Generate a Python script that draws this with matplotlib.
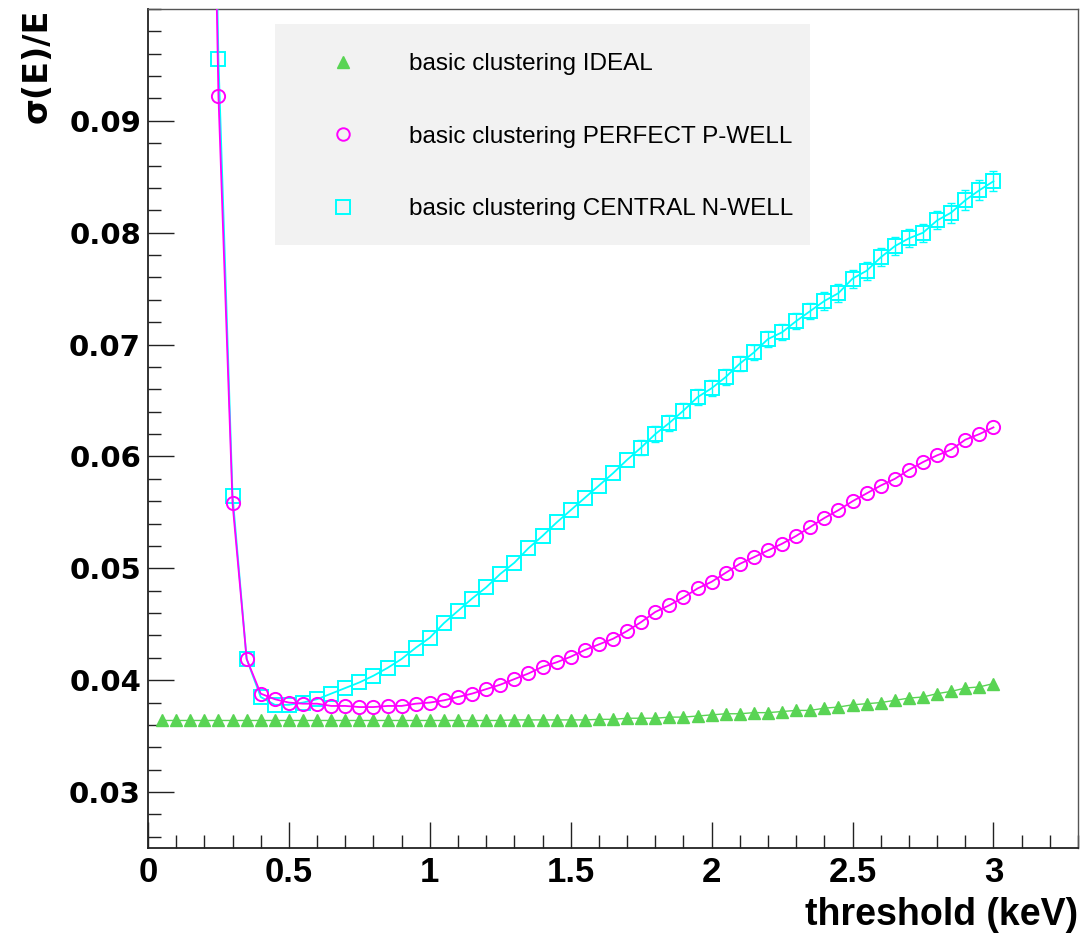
import numpy as np
import matplotlib
matplotlib.use("Agg")
import matplotlib.pyplot as plt
from matplotlib.lines import Line2D
from matplotlib.patches import Rectangle
from matplotlib.ticker import MultipleLocator

# ---------------- data ----------------
thr_ideal = [0.05, 0.10, 0.15, 0.20, 0.25, 0.30, 0.35, 0.40, 0.45, 0.50,
             0.55, 0.60, 0.65, 0.70, 0.75, 0.80, 0.85, 0.90, 0.95, 1.00,
             1.05, 1.10, 1.15, 1.20, 1.25, 1.30, 1.35, 1.40, 1.45, 1.50,
             1.55, 1.60, 1.65, 1.70, 1.75, 1.80, 1.85, 1.90, 1.95, 2.00,
             2.05, 2.10, 2.15, 2.20, 2.25, 2.30, 2.35, 2.40, 2.45, 2.50,
             2.55, 2.60, 2.65, 2.70, 2.75, 2.80, 2.85, 2.90, 2.95, 3.00]
res_ideal = [0.0364, 0.0364, 0.0364, 0.0364, 0.0364, 0.0364, 0.0364, 0.0364, 0.0364, 0.0364,
             0.0364, 0.0364, 0.0364, 0.0364, 0.0364, 0.0364, 0.0364, 0.0364, 0.0364, 0.0364,
             0.0364, 0.0364, 0.0364, 0.0364, 0.0364, 0.03645, 0.03645, 0.03645, 0.03645, 0.03645,
             0.03645, 0.0365, 0.0365, 0.0366, 0.0366, 0.0366, 0.0367, 0.0367, 0.0368, 0.0369,
             0.0370, 0.0370, 0.0371, 0.0371, 0.0372, 0.0373, 0.0373, 0.0375, 0.0376, 0.0378,
             0.0379, 0.0380, 0.0382, 0.0384, 0.0385, 0.0388, 0.0390, 0.0393, 0.0394, 0.0397]

thr_well = [0.20, 0.25, 0.30, 0.35, 0.40, 0.45, 0.50,
            0.55, 0.60, 0.65, 0.70, 0.75, 0.80, 0.85, 0.90, 0.95, 1.00,
            1.05, 1.10, 1.15, 1.20, 1.25, 1.30, 1.35, 1.40, 1.45, 1.50,
            1.55, 1.60, 1.65, 1.70, 1.75, 1.80, 1.85, 1.90, 1.95, 2.00,
            2.05, 2.10, 2.15, 2.20, 2.25, 2.30, 2.35, 2.40, 2.45, 2.50,
            2.55, 2.60, 2.65, 2.70, 2.75, 2.80, 2.85, 2.90, 2.95, 3.00]
res_pwell = [0.16, 0.0922, 0.0558, 0.0419, 0.0388, 0.0383, 0.0380,
             0.0379, 0.0379, 0.0377, 0.0377, 0.0376, 0.0376, 0.0377, 0.0377, 0.0379, 0.0380,
             0.0382, 0.0385, 0.0388, 0.0392, 0.0396, 0.0401, 0.0406, 0.0412, 0.0416, 0.0421,
             0.0427, 0.0432, 0.0437, 0.0444, 0.0452, 0.0461, 0.0467, 0.0474, 0.0482, 0.0488,
             0.0496, 0.0504, 0.0510, 0.0516, 0.0522, 0.0529, 0.0537, 0.0545, 0.0552, 0.0560,
             0.0567, 0.0574, 0.0580, 0.0588, 0.0595, 0.0601, 0.0606, 0.0615, 0.0620, 0.0626]
res_nwell = [0.16, 0.0955, 0.0565, 0.0419, 0.0385, 0.0378, 0.0378,
             0.0380, 0.0383, 0.0388, 0.0393, 0.0398, 0.0404, 0.0411, 0.0419, 0.0429, 0.0438,
             0.0451, 0.0462, 0.0473, 0.0483, 0.0495, 0.0505, 0.0518, 0.0529, 0.0541, 0.0552,
             0.0563, 0.0574, 0.0585, 0.0597, 0.0608, 0.0620, 0.0630, 0.0641, 0.0653, 0.0661,
             0.0671, 0.0683, 0.0693, 0.0705, 0.0711, 0.0721, 0.0730, 0.0739, 0.0746, 0.0759,
             0.0766, 0.0778, 0.0788, 0.0795, 0.0800, 0.0811, 0.0818, 0.0829, 0.0838, 0.0846]
# statistical errors (only visible beyond the marker size at high threshold)
err_nwell = [0.0, 0.0, 0.0, 0.0, 0.0, 0.0, 0.0,
             0.0, 0.0, 0.0, 0.0, 0.0, 0.0, 0.0, 0.0, 0.0, 0.0,
             0.0, 0.0, 0.0, 0.0, 0.0, 0.0, 0.0, 0.0, 0.0, 0.0,
             0.0, 0.0, 0.0, 0.0, 0.0007, 0.0007, 0.0007, 0.0007, 0.0007, 0.0007,
             0.0007, 0.0007, 0.0007, 0.0007, 0.0007, 0.0007, 0.0007, 0.0008, 0.0008, 0.0008,
             0.0008, 0.0008, 0.0008, 0.0008, 0.0008, 0.0008, 0.0009, 0.0009, 0.0009, 0.0009]

labels = ["basic clustering IDEAL",
          "basic clustering PERFECT P-WELL",
          "basic clustering CENTRAL N-WELL"]
c_green, c_mag, c_cyan = "#59d454", "#ff00ff", "#00ffff"

x_ticks = [0, 0.5, 1, 1.5, 2, 2.5, 3]
x_ticklabels = ["0", "0.5", "1", "1.5", "2", "2.5", "3"]
y_ticks = [0.03, 0.04, 0.05, 0.06, 0.07, 0.08, 0.09]
y_ticklabels = ["0.03", "0.04", "0.05", "0.06", "0.07", "0.08", "0.09"]

# ---------------- figure ----------------
fig = plt.figure(figsize=(10.8, 9.33), dpi=100)
ax = fig.add_axes([148/1080, 1 - 848/933, 930/1080, 839/933])
ax.set_xlim(0, 3.3)
ax.set_ylim(0.025, 0.1)

ax.plot(thr_ideal, res_ideal, color=c_green, lw=1.0, marker="^", ms=9,
        mec=c_green, mfc=c_green, zorder=3)

ax.plot(thr_well, res_nwell, color=c_cyan, lw=1.3, marker="s", ms=10,
        mfc="none", mec=c_cyan, mew=1.4, zorder=3)
ex = [t for t, e in zip(thr_well, err_nwell) if e > 0]
ey = [v for v, e in zip(res_nwell, err_nwell) if e > 0]
ee = [e for e in err_nwell if e > 0]
ax.errorbar(ex, ey, yerr=ee, fmt="none", ecolor=c_cyan, elinewidth=1.0,
            capsize=3, capthick=1.0, zorder=3)

ax.plot(thr_well, res_pwell, color=c_mag, lw=1.3, marker="o", ms=9.5,
        mfc="none", mec=c_mag, mew=1.4, zorder=4)

# legend background
ax.add_patch(Rectangle(((275-148)/930, 1-(245-9)/839), (810-275)/930, (245-24)/839,
                       transform=ax.transAxes, facecolor="#f2f2f2",
                       edgecolor="none", zorder=1))
handles = [Line2D([], [], ls="none", marker="^", ms=8.5, color=c_green),
           Line2D([], [], ls="none", marker="o", ms=9, mfc="none", mec=c_mag, mew=1.4),
           Line2D([], [], ls="none", marker="s", ms=9.5, mfc="none", mec=c_cyan, mew=1.4)]
leg = ax.legend(handles, labels, loc="upper left",
                bbox_to_anchor=((307-148)/930, 1-(41-9)/839),
                frameon=False, borderpad=0, handlelength=2.0,
                handletextpad=1.7, labelspacing=2.08,
                prop={"family": "Liberation Sans", "size": 17.5})
leg.set_zorder(5)

# ticks
ax.set_xticks(x_ticks)
ax.set_xticklabels(x_ticklabels, fontfamily="Liberation Sans", fontweight="bold", fontsize=25)
ax.set_yticks(y_ticks)
ax.set_yticklabels(y_ticklabels, fontfamily="DejaVu Sans", fontweight="bold", fontsize=21)
ax.xaxis.set_minor_locator(MultipleLocator(0.1))
ax.yaxis.set_minor_locator(MultipleLocator(0.002))
ax.tick_params(which="major", direction="in", length=18.5, width=1.0, color="#222222")
ax.tick_params(which="minor", direction="in", length=9.5, width=1.0, color="#222222")
ax.tick_params(axis="x", which="major", pad=6)
ax.tick_params(axis="y", which="major", pad=5)
ax.tick_params(top=False, right=False, which="both")

for s in ax.spines.values():
    s.set_linewidth(1.3)
    s.set_color("#222222")
for side in ("top", "right"):
    ax.spines[side].set_color("#555555")
    ax.spines[side].set_linewidth(1.0)

ax.set_xlabel("threshold (keV)", fontfamily="Liberation Sans", fontweight="bold",
              fontsize=27, ha="right")
ax.xaxis.set_label_coords(1.0, -(915-848)/839)
ax.xaxis.label.set_va("center")
ax.set_ylabel("σ(E)/E", fontfamily="DejaVu Sans", fontweight="bold",
              fontsize=24, ha="right")
ax.yaxis.set_label_coords((37-148)/930, 1.0)
ax.yaxis.label.set_va("center")

fig.savefig("out.png", dpi=100)
